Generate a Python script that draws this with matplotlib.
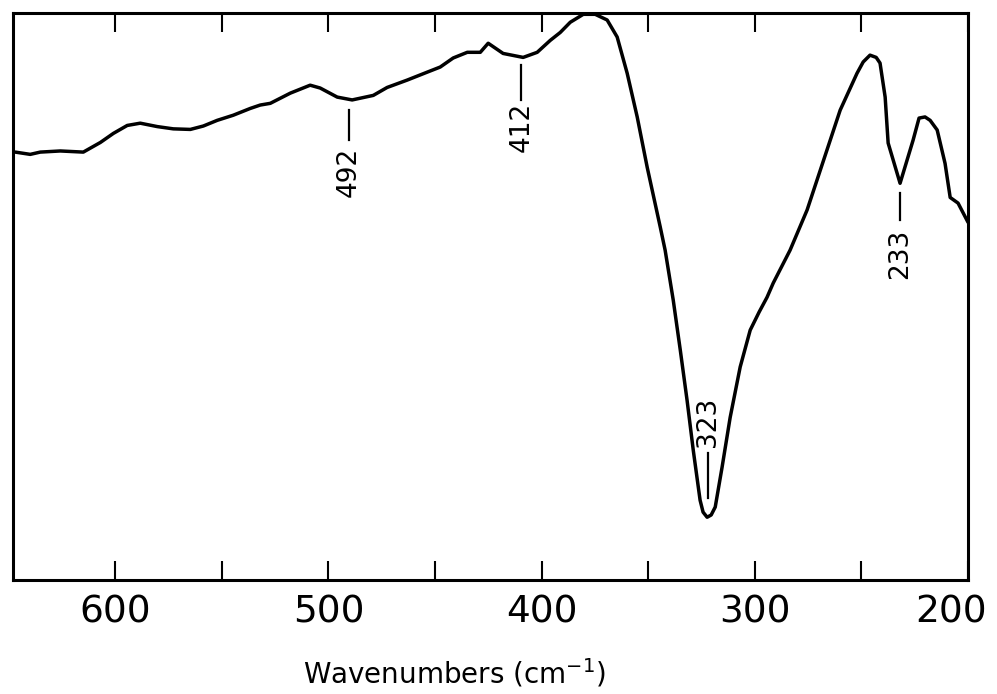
import matplotlib.pyplot as plt
import matplotlib.transforms as mtransforms

# spectrum (wavenumber, relative transmittance)
wavenumber = [646.9, 639.9, 635.2, 625.8, 615.0, 607.0, 600.9, 594.4, 588.3, 580.3,
              572.8, 564.8, 558.7, 552.2, 544.7, 536.7, 532.0, 527.3, 517.9, 508.6,
              503.9, 495.9, 488.9, 479.0, 472.5, 463.1, 453.7, 447.6, 441.5, 434.9,
              428.8, 425.1, 418.1, 408.7, 402.1, 396.0, 391.3, 386.6, 380.5, 374.9,
              369.3, 364.6, 359.9, 355.2, 350.5, 344.4, 342.1, 338.3, 335.0, 331.8,
              328.9, 325.7, 324.3, 322.4, 320.5, 318.6, 315.4, 311.6, 306.9, 302.2,
              298.0, 294.3, 291.4, 283.5, 275.5, 260.0, 252.1, 249.2, 246.0, 243.1,
              241.3, 238.9, 237.5, 231.9, 225.8, 223.0, 220.2, 217.8, 214.5, 210.8,
              208.4, 204.7, 200.0]
transmittance = [75.5, 75.1, 75.5, 75.7, 75.5, 77.2, 78.8, 80.2, 80.6, 80.0,
                 79.6, 79.5, 80.1, 81.1, 82.0, 83.2, 83.8, 84.1, 85.9, 87.3,
                 86.8, 85.2, 84.7, 85.5, 86.9, 88.2, 89.6, 90.5, 92.1, 93.1,
                 93.1, 94.7, 92.9, 92.2, 93.1, 95.2, 96.6, 98.4, 99.8, 99.8,
                 98.8, 95.8, 89.4, 81.7, 72.8, 62.3, 58.2, 49.4, 40.6, 31.7,
                 22.9, 14.1, 12.0, 11.1, 11.5, 12.9, 19.9, 28.7, 37.6, 44.1,
                 47.3, 49.9, 52.4, 58.2, 65.3, 82.9, 89.4, 91.4, 92.6, 92.2,
                 91.2, 85.2, 77.1, 70.0, 77.6, 81.5, 81.7, 81.1, 79.4, 73.5,
                 67.5, 66.5, 63.1]

tick_pos = [200, 250, 300, 350, 400, 450, 500, 550, 600]
tick_labels = ['200', '', '300', '', '400', '', '500', '', '600']

# band labels: text, x, leader line (y0, y1), text centre y
band_text = ['492', '412', '323', '233']
band_x = [490.3, 409.6, 321.9, 231.9]
band_line = [(77.6, 82.9), (84.7, 90.8), (14.5, 22.4), (63.5, 68.3)]
band_text_y = [72.0, 80.0, 27.9, 57.6]

fig = plt.figure(figsize=(9.97, 6.94), dpi=100)
ax = fig.add_axes([0.013, 0.164, 0.958, 0.817])

ax.plot(wavenumber, transmittance, color='black', lw=2.5,
        solid_joinstyle='round', solid_capstyle='round')

for t, x, (y0, y1), ty in zip(band_text, band_x, band_line, band_text_y):
    ax.plot([x, x], [y0, y1], color='black', lw=1.6)
    ax.text(x, ty, t, rotation=90, ha='center', va='center', fontsize=19)

ax.set_xlim(648, 200)
ax.set_ylim(0, 100)
ax.set_xticks(tick_pos)
ax.set_xticklabels(tick_labels, fontsize=27)
ax.set_yticks([])
ax.tick_params(axis='x', direction='in', length=14, width=1.5, top=True, pad=10)

# the "200" label sits a little left of its tick, inside the frame edge
lab = ax.get_xticklabels()[0]
lab.set_transform(lab.get_transform() +
                  mtransforms.ScaledTranslation(-0.17, 0, fig.dpi_scale_trans))

for s in ax.spines.values():
    s.set_linewidth(2.2)

ax.set_xlabel(r'Wavenumbers (cm$^{-1}$)', fontsize=20, va='center')
ax.xaxis.set_label_coords(0.462, -0.164)

fig.savefig('out.png', dpi=100)
